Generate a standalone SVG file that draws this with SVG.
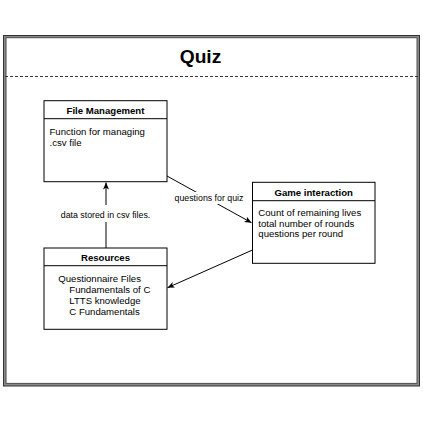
<svg xmlns="http://www.w3.org/2000/svg" width="423" height="423" viewBox="0 0 423 423">
<style>
.box{fill:#fff;stroke:#000;stroke-width:1}
.hdr{font-family:"Liberation Sans",Arial,sans-serif;font-size:9.6px;font-weight:bold;text-anchor:middle;fill:#000}
.body{font-family:"Liberation Sans",Arial,sans-serif;font-size:9.6px;fill:#000}
.lbl{font-family:"Liberation Sans",Arial,sans-serif;font-size:8.8px;text-anchor:middle;fill:#000}
.edge{fill:none;stroke:#000;stroke-width:1}
</style>
<defs>
<marker id="arr" markerUnits="userSpaceOnUse" markerWidth="8" markerHeight="8" refX="7" refY="3" orient="auto">
<path d="M0,0 L7,3 L0,6 L1.8,3 Z" fill="#000"/>
</marker>
</defs>
<rect width="423" height="423" fill="#fff"/>
<g id="frame">
<rect x="4.8" y="36.5" width="413.5" height="348" fill="none" stroke="#8a8a8a" stroke-width="3"/>
<rect x="3.5" y="35.5" width="416" height="350.5" fill="none" stroke="#333" stroke-width="1"/>
<rect x="6" y="37.8" width="411" height="345.5" fill="none" stroke="#444" stroke-width="0.8"/>
<text x="200.5" y="62.5" font-family="'Liberation Sans',Arial,sans-serif" font-size="19.2" font-weight="bold" text-anchor="middle">Quiz</text>
<line x1="5" y1="76.5" x2="420" y2="76.5" stroke="#333" stroke-width="1" stroke-dasharray="3 2"/>
</g>
<g id="connectors">
<line class="edge" x1="106" y1="248" x2="106" y2="182.5" marker-end="url(#arr)"/>
<rect x="58" y="205" width="95" height="17" fill="#fff"/>
<text class="lbl" x="105.5" y="218">data stored in csv files.</text>
<line class="edge" x1="167" y1="176" x2="251.5" y2="222.7" marker-end="url(#arr)"/>
<rect x="173" y="192" width="72" height="12" fill="#fff"/>
<text class="lbl" x="209" y="201">questions for quiz</text>
<line class="edge" x1="252.5" y1="250" x2="167.5" y2="287.7" marker-end="url(#arr)"/>
<path d="M366,220 L371.5,223 L366,226 L367.6,223 Z" fill="#000"/>
</g>
<g id="file-management">
<rect class="box" x="44" y="100.7" width="123" height="81"/>
<line x1="44" y1="118.7" x2="167" y2="118.7" stroke="#000"/>
<text class="hdr" x="105.5" y="114.3">File Management</text>
<text class="body" x="49.5" y="135">Function for managing</text>
<text class="body" x="49.5" y="146">.csv file</text>
</g>
<g id="game-interaction">
<rect class="box" x="252.5" y="182.3" width="122.5" height="81"/>
<line x1="252.5" y1="200.7" x2="375" y2="200.7" stroke="#000"/>
<text class="hdr" x="313.7" y="196">Game interaction</text>
<text class="body" x="258.3" y="215.7">Count of remaining lives</text>
<text class="body" x="258.3" y="226.5">total number of rounds</text>
<text class="body" x="258.3" y="237.3">questions per round</text>
</g>
<g id="resources">
<rect class="box" x="44" y="248" width="123" height="81.3"/>
<line x1="44" y1="265.7" x2="167" y2="265.7" stroke="#000"/>
<text class="hdr" x="105.5" y="261.3">Resources</text>
<text class="body" x="58.3" y="281.7">Questionnaire Files</text>
<text class="body" x="69.3" y="292.7">Fundamentals of C</text>
<text class="body" x="69.3" y="304">LTTS knowledge</text>
<text class="body" x="69.3" y="315">C Fundamentals</text>
</g>
</svg>
